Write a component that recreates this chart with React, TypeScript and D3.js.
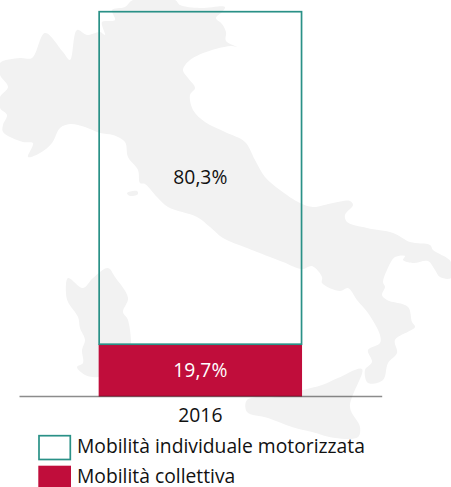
import React, { useEffect, useRef } from 'react'
import * as d3 from 'd3'

const years = ['2016']
const collettiva = [19.7]
const individuale = [80.3]
const barLabels = ['19,7%', '80,3%']
const legendLabels = ['Mobilità individuale motorizzata', 'Mobilità collettiva']

// background picture of Italy, traced in page pixels
const mainland: [number, number][] = [
  [133, 0], [175, 0], [180, 5], [200, 8], [225, 7], [222, 12], [216, 18], [222, 24], [226, 32], [226, 41],
  [237, 47], [232, 46], [212, 50], [190, 60], [183, 70], [188, 78], [195, 88], [190, 95], [193, 110],
  [205, 122], [225, 132], [245, 142], [255, 160], [265, 177], [280, 190], [300, 203], [313, 207], [333, 203],
  [350, 201], [353, 205], [345, 215], [347, 222], [367, 228], [393, 233], [410, 242], [430, 245], [433, 250],
  [447, 258], [451, 262], [451, 278], [440, 277], [435, 270], [428, 261], [413, 263], [403, 260], [405, 256],
  [395, 257], [387, 270], [383, 282], [385, 287], [382, 295], [387, 300], [408, 307], [412, 322], [415, 327],
  [395, 340], [397, 353], [388, 363], [383, 380], [368, 383], [365, 370], [372, 362], [368, 350], [380, 343],
  [380, 335], [368, 313], [357, 300], [348, 288], [340, 291], [322, 283], [322, 277], [312, 266], [302, 269],
  [283, 262], [247, 248], [223, 238], [210, 227], [197, 217], [168, 207], [157, 197], [145, 184], [140, 183],
  [138, 170], [128, 157], [125, 142], [113, 135], [100, 133], [85, 127], [70, 124], [60, 128], [52, 143],
  [40, 153], [28, 157], [33, 143], [23, 142], [3, 132], [3, 125], [7, 115], [0, 108], [0, 97], [8, 87],
  [0, 75], [0, 63], [20, 58], [32, 58], [45, 33], [63, 52], [70, 60], [77, 30], [87, 35], [100, 32],
  [105, 35], [102, 22], [115, 20], [112, 10], [125, 7],
]
const sardinia: [number, number][] = [
  [108, 268], [115, 277], [128, 298], [123, 312], [128, 320], [128, 360], [98, 377], [93, 377], [85, 375],
  [77, 367], [83, 363], [82, 350], [85, 340], [80, 328], [78, 317], [68, 302], [66, 293], [68, 278],
  [83, 288], [93, 278],
]
const sicily: [number, number][] = [
  [362, 369], [350, 407], [360, 427], [358, 437], [335, 438], [312, 432], [292, 427], [268, 418], [247, 412],
  [247, 400], [275, 397], [303, 390], [322, 385], [338, 378],
]
const elba: [number, number][] = [[127, 193], [137, 191], [138, 194], [130, 196]]

const width = 451
const height = 487
const teal = '#2a9187'
const red = '#c00d3b'
const fontFamily = '"Open Sans", sans-serif'
const fontSize = 19.3

const App = () => {
  const axisRef = useRef<SVGGElement>(null)

  const x = d3.scaleBand()
    .domain(years)
    .range([19, 381.7])
    .padding(0.2837)

  // the red segment in the picture is drawn shorter than its label, hence the break at 19.7
  const y = d3.scaleLinear()
    .domain([0, 19.7, 100])
    .range([396.5, 344.2, 11.7])

  const outline = d3.line().curve(d3.curveCatmullRomClosed.alpha(0.5))

  useEffect(() => {
    const g = d3.select(axisRef.current)
    g.call(d3.axisBottom(x).tickSize(0).tickPadding(12) as any)
    g.select('.domain').attr('stroke', '#000').attr('stroke-opacity', 0.45).attr('stroke-width', 1.5)
    g.selectAll('text')
      .attr('fill', '#111')
      .style('font-family', fontFamily)
      .style('font-size', `${fontSize}px`)
  }, [x])

  return (
    <svg width={width} height={height} style={{ position: 'absolute', left: 0, top: 0 }}>
      <g fill="#f2f2f2">
        {[mainland, sardinia, sicily, elba].map((d, i) => (
          <path key={i} d={outline(d)!} />
        ))}
      </g>

      {years.map((year, i) => (
        <g key={year}>
          <rect
            x={x(year)! - 0.5}
            y={y(collettiva[i])}
            width={x.bandwidth() + 1}
            height={y(0) - y(collettiva[i])}
            fill={red}
          />
          <rect
            x={x(year)}
            y={y(collettiva[i] + individuale[i])}
            width={x.bandwidth()}
            height={y(collettiva[i]) - y(collettiva[i] + individuale[i])}
            fill="none"
            stroke={teal}
            strokeWidth={1.7}
          />
          <text
            x={x(year)! + x.bandwidth() / 2}
            y={183.5}
            textAnchor="middle"
            fontFamily={fontFamily}
            fontSize={fontSize}
            fill="#111"
          >
            {barLabels[1]}
          </text>
          <text
            x={x(year)! + x.bandwidth() / 2}
            y={377}
            textAnchor="middle"
            fontFamily={fontFamily}
            fontSize={fontSize}
            fill="#fff"
          >
            {barLabels[0]}
          </text>
        </g>
      ))}

      <g ref={axisRef} transform="translate(0,396)" />

      {legendLabels.map((label, i) => (
        <g key={label} transform={`translate(0,${435 + i * 30})`}>
          <rect
            x={i === 0 ? 39 : 38.3}
            y={0.7}
            width={i === 0 ? 31.3 : 32.7}
            height={i === 0 ? 23.8 : 25}
            fill={i === 0 ? '#fff' : red}
            stroke={i === 0 ? teal : 'none'}
            strokeWidth={1.7}
          />
          <text x={77} y={18.3} fontFamily={fontFamily} fontSize={fontSize} fill="#111">{label}</text>
        </g>
      ))}
    </svg>
  )
}

export default App
